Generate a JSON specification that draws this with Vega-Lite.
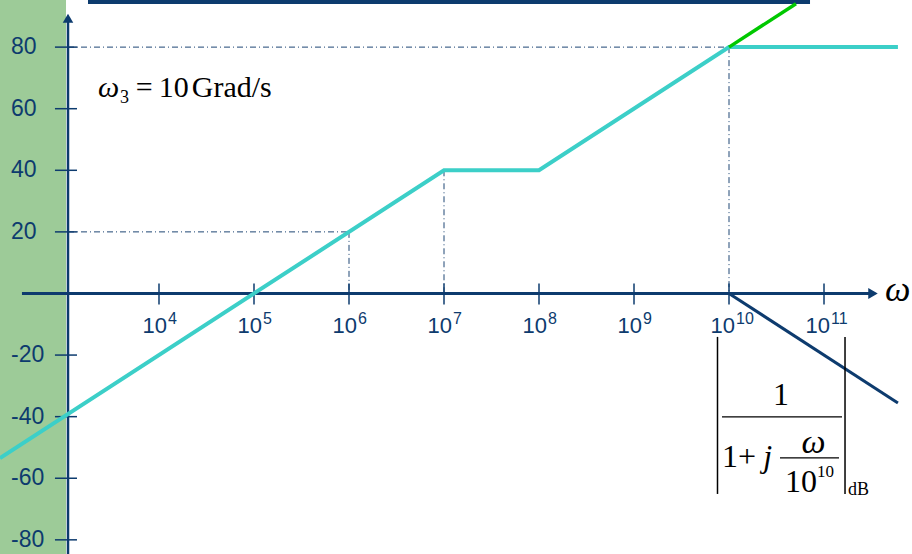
{
  "$schema": "https://vega.github.io/schema/vega-lite/v6.json",
  "width": 912,
  "height": 554,
  "autosize": {"type": "none"},
  "padding": 0,
  "background": "white",
  "config": {"view": {"stroke": null}, "axis": {"disable": true}},
  "datasets": {
    "asymptote": [
      {"w": 212, "db": -53.47},
      {"w": 1e7, "db": 40},
      {"w": 1e8, "db": 40},
      {"w": 1e10, "db": 80},
      {"w": 6e11, "db": 80}
    ],
    "ideal": [
      {"w": 1e10, "db": 80},
      {"w": 5.07e10, "db": 94.1}
    ],
    "pole": [
      {"w": 1e10, "db": 0},
      {"w": 6e11, "db": -35.56}
    ],
    "guides": [
      {"w1": 1102, "w2": 1e10, "db1": 80, "db2": 80},
      {"w1": 1e10, "w2": 1e10, "db1": 80, "db2": 0},
      {"w1": 1102, "w2": 1e6, "db1": 20, "db2": 20},
      {"w1": 1e6, "w2": 1e6, "db1": 20, "db2": 0},
      {"w1": 1e7, "w2": 1e7, "db1": 40, "db2": 0}
    ],
    "xticks": [
      {"w": 1e4, "e": "4"},
      {"w": 1e5, "e": "5"},
      {"w": 1e6, "e": "6"},
      {"w": 1e7, "e": "7"},
      {"w": 1e8, "e": "8"},
      {"w": 1e9, "e": "9"},
      {"w": 1e10, "e": "10"},
      {"w": 1e11, "e": "11"}
    ],
    "yticks": [
      {"db": 80, "lab": "80"}, {"db": 60, "lab": "60"}, {"db": 40, "lab": "40"}, {"db": 20, "lab": "20"},
      {"db": -20, "lab": "-20"}, {"db": -40, "lab": "-40"}, {"db": -60, "lab": "-60"}, {"db": -80, "lab": "-80"}
    ],
    "one": [{}]
  },
  "layer": [
    {
      "data": {"name": "one"},
      "mark": {"type": "rect", "color": "#9DCB98"},
      "encoding": {
        "x": {"datum": 212, "type": "quantitative", "scale": {"type": "log", "domain": [212.0, 8.438e11], "nice": false}, "axis": null},
        "x2": {"datum": 1050},
        "y": {"datum": -84.6, "type": "quantitative", "scale": {"domain": [-84.6, 95.3], "nice": false, "zero": false}, "axis": null},
        "y2": {"datum": 95.3}
      }
    },
    {
      "data": {"name": "one"},
      "mark": {"type": "rect", "color": "#0D3B6E"},
      "encoding": {
        "x": {"datum": 1789, "type": "quantitative"},
        "x2": {"datum": 7.124e10},
        "y": {"datum": 94.0, "type": "quantitative"},
        "y2": {"datum": 95.3}
      }
    },
    {
      "data": {"name": "guides"},
      "mark": {"type": "rule", "color": "#1E4674", "strokeWidth": 1, "strokeDash": [6, 3, 1, 3]},
      "encoding": {
        "x": {"field": "w1", "type": "quantitative"},
        "x2": {"field": "w2"},
        "y": {"field": "db1", "type": "quantitative"},
        "y2": {"field": "db2"}
      }
    },
    {
      "data": {"name": "one"},
      "mark": {"type": "rule", "color": "#0D3B6E", "strokeWidth": 2.5},
      "encoding": {
        "x": {"datum": 1102, "type": "quantitative"},
        "y": {"datum": -84.6, "type": "quantitative"},
        "y2": {"datum": 89.0}
      }
    },
    {
      "data": {"name": "one"},
      "mark": {"type": "point", "shape": "triangle-up", "filled": true, "color": "#0D3B6E", "size": 110, "opacity": 1},
      "encoding": {
        "x": {"datum": 1102, "type": "quantitative"},
        "y": {"datum": 89.4, "type": "quantitative"}
      }
    },
    {
      "data": {"name": "one"},
      "mark": {"type": "rule", "color": "#0D3B6E", "strokeWidth": 3},
      "encoding": {
        "x": {"datum": 361, "type": "quantitative"},
        "x2": {"datum": 3.05e11},
        "y": {"datum": 0, "type": "quantitative"}
      }
    },
    {
      "data": {"name": "one"},
      "mark": {"type": "point", "shape": "triangle-right", "filled": true, "color": "#0D3B6E", "size": 120, "opacity": 1},
      "encoding": {
        "x": {"datum": 3.28e11, "type": "quantitative"},
        "y": {"datum": 0, "type": "quantitative"}
      }
    },
    {
      "data": {"name": "xticks"},
      "mark": {"type": "rule", "color": "#0D3B6E", "strokeWidth": 1.5},
      "encoding": {
        "x": {"field": "w", "type": "quantitative"},
        "y": {"datum": 3.2, "type": "quantitative"},
        "y2": {"datum": -3.6}
      }
    },
    {
      "data": {"name": "yticks"},
      "mark": {"type": "rule", "color": "#0D3B6E", "strokeWidth": 1.5},
      "encoding": {
        "y": {"field": "db", "type": "quantitative"},
        "x": {"datum": 803, "type": "quantitative"},
        "x2": {"datum": 1370}
      }
    },
    {
      "data": {"name": "yticks"},
      "mark": {"type": "text", "color": "#0D3B6E", "font": "Liberation Sans", "fontSize": 23, "align": "left", "baseline": "middle"},
      "encoding": {
        "y": {"field": "db", "type": "quantitative"},
        "x": {"datum": 276.8, "type": "quantitative"},
        "text": {"field": "lab", "type": "nominal"}
      }
    },
    {
      "data": {"name": "xticks"},
      "transform": [{"filter": "datum.w < 5e9"}],
      "mark": {"type": "text", "color": "#0D3B6E", "font": "Liberation Sans", "fontSize": 22, "align": "right", "baseline": "alphabetic", "dx": 8},
      "encoding": {
        "x": {"field": "w", "type": "quantitative"},
        "y": {"datum": -12.8, "type": "quantitative"},
        "text": {"value": "10"}
      }
    },
    {
      "data": {"name": "xticks"},
      "transform": [{"filter": "datum.w > 5e9"}],
      "mark": {"type": "text", "color": "#0D3B6E", "font": "Liberation Sans", "fontSize": 22, "align": "right", "baseline": "alphabetic", "dx": 6},
      "encoding": {
        "x": {"field": "w", "type": "quantitative"},
        "y": {"datum": -12.8, "type": "quantitative"},
        "text": {"value": "10"}
      }
    },
    {
      "data": {"name": "xticks"},
      "transform": [{"filter": "datum.w < 5e9"}],
      "mark": {"type": "text", "color": "#0D3B6E", "font": "Liberation Sans", "fontSize": 16, "align": "left", "baseline": "alphabetic", "dx": 9},
      "encoding": {
        "x": {"field": "w", "type": "quantitative"},
        "y": {"datum": -9.8, "type": "quantitative"},
        "text": {"field": "e", "type": "nominal"}
      }
    },
    {
      "data": {"name": "xticks"},
      "transform": [{"filter": "datum.w > 5e9"}],
      "mark": {"type": "text", "color": "#0D3B6E", "font": "Liberation Sans", "fontSize": 16, "align": "left", "baseline": "alphabetic", "dx": 7},
      "encoding": {
        "x": {"field": "w", "type": "quantitative"},
        "y": {"datum": -9.8, "type": "quantitative"},
        "text": {"field": "e", "type": "nominal"}
      }
    },
    {
      "data": {"name": "pole"},
      "mark": {"type": "line", "color": "#0D3B6E", "strokeWidth": 3},
      "encoding": {
        "x": {"field": "w", "type": "quantitative"},
        "y": {"field": "db", "type": "quantitative"}
      }
    },
    {
      "data": {"name": "asymptote"},
      "mark": {"type": "line", "color": "#3CCFC8", "strokeWidth": 4},
      "encoding": {
        "x": {"field": "w", "type": "quantitative"},
        "y": {"field": "db", "type": "quantitative"}
      }
    },
    {
      "data": {"name": "ideal"},
      "mark": {"type": "line", "color": "#00C800", "strokeWidth": 3.5},
      "encoding": {
        "x": {"field": "w", "type": "quantitative"},
        "y": {"field": "db", "type": "quantitative"}
      }
    },
    {
      "data": {"name": "one"},
      "mark": {"type": "text", "color": "black", "font": "Liberation Serif", "fontSize": 30, "fontStyle": "italic", "align": "left", "baseline": "alphabetic"},
      "encoding": {
        "x": {"datum": 2280, "type": "quantitative"},
        "y": {"datum": 63.8, "type": "quantitative"},
        "text": {"value": "ω"}
      }
    },
    {
      "data": {"name": "one"},
      "mark": {"type": "text", "color": "black", "font": "Liberation Serif", "fontSize": 18, "align": "left", "baseline": "alphabetic"},
      "encoding": {
        "x": {"datum": 3882, "type": "quantitative"},
        "y": {"datum": 61.7, "type": "quantitative"},
        "text": {"value": "3"}
      }
    },
    {
      "data": {"name": "one"},
      "mark": {"type": "text", "color": "black", "font": "Liberation Serif", "fontSize": 30, "align": "left", "baseline": "alphabetic"},
      "encoding": {
        "x": {"datum": 5700, "type": "quantitative"},
        "y": {"datum": 63.8, "type": "quantitative"},
        "text": {"value": "="}
      }
    },
    {
      "data": {"name": "one"},
      "mark": {"type": "text", "color": "black", "font": "Liberation Serif", "fontSize": 30, "align": "left", "baseline": "alphabetic"},
      "encoding": {
        "x": {"datum": 9960, "type": "quantitative"},
        "y": {"datum": 63.8, "type": "quantitative"},
        "text": {"value": "10"}
      }
    },
    {
      "data": {"name": "one"},
      "mark": {"type": "text", "color": "black", "font": "Liberation Serif", "fontSize": 30, "align": "left", "baseline": "alphabetic"},
      "encoding": {
        "x": {"datum": 22130, "type": "quantitative"},
        "y": {"datum": 63.8, "type": "quantitative"},
        "text": {"value": "Grad/s"}
      }
    },
    {
      "data": {"name": "one"},
      "mark": {"type": "text", "color": "black", "font": "Liberation Serif", "fontSize": 36, "fontStyle": "italic", "align": "left", "baseline": "alphabetic"},
      "encoding": {
        "x": {"datum": 4.385e11, "type": "quantitative"},
        "y": {"datum": -2.3, "type": "quantitative"},
        "text": {"value": "ω"}
      }
    },
    {
      "data": {"name": "one"},
      "mark": {"type": "rule", "color": "black", "strokeWidth": 1.5},
      "encoding": {
        "x": {"datum": 7.566e9, "type": "quantitative"},
        "y": {"datum": -14.1, "type": "quantitative"},
        "y2": {"datum": -65.1}
      }
    },
    {
      "data": {"name": "one"},
      "mark": {"type": "rule", "color": "black", "strokeWidth": 1.5},
      "encoding": {
        "x": {"datum": 1.664e11, "type": "quantitative"},
        "y": {"datum": -14.1, "type": "quantitative"},
        "y2": {"datum": -65.1}
      }
    },
    {
      "data": {"name": "one"},
      "mark": {"type": "rule", "color": "black", "strokeWidth": 1.2},
      "encoding": {
        "x": {"datum": 8.44e9, "type": "quantitative"},
        "x2": {"datum": 1.547e11},
        "y": {"datum": -40.1, "type": "quantitative"}
      }
    },
    {
      "data": {"name": "one"},
      "mark": {"type": "rule", "color": "black", "strokeWidth": 1.2},
      "encoding": {
        "x": {"datum": 3.441e10, "type": "quantitative"},
        "x2": {"datum": 1.438e11},
        "y": {"datum": -53.4, "type": "quantitative"}
      }
    },
    {
      "data": {"name": "one"},
      "mark": {"type": "text", "color": "black", "font": "Liberation Serif", "fontSize": 32, "align": "center", "baseline": "alphabetic"},
      "encoding": {
        "x": {"datum": 3.527e10, "type": "quantitative"},
        "y": {"datum": -36.2, "type": "quantitative"},
        "text": {"value": "1"}
      }
    },
    {
      "data": {"name": "one"},
      "mark": {"type": "text", "color": "black", "font": "Liberation Serif", "fontSize": 32, "align": "left", "baseline": "alphabetic"},
      "encoding": {
        "x": {"datum": 8.44e9, "type": "quantitative"},
        "y": {"datum": -56.3, "type": "quantitative"},
        "text": {"value": "1+"}
      }
    },
    {
      "data": {"name": "one"},
      "mark": {"type": "text", "color": "black", "font": "Liberation Serif", "fontSize": 32, "fontStyle": "italic", "align": "left", "baseline": "alphabetic"},
      "encoding": {
        "x": {"datum": 2.3e10, "type": "quantitative"},
        "y": {"datum": -56.3, "type": "quantitative"},
        "text": {"value": "j"}
      }
    },
    {
      "data": {"name": "one"},
      "mark": {"type": "text", "color": "black", "font": "Liberation Serif", "fontSize": 34, "fontStyle": "italic", "align": "center", "baseline": "alphabetic"},
      "encoding": {
        "x": {"datum": 7.754e10, "type": "quantitative"},
        "y": {"datum": -51.8, "type": "quantitative"},
        "text": {"value": "ω"}
      }
    },
    {
      "data": {"name": "one"},
      "mark": {"type": "text", "color": "black", "font": "Liberation Serif", "fontSize": 32, "align": "left", "baseline": "alphabetic"},
      "encoding": {
        "x": {"datum": 3.886e10, "type": "quantitative"},
        "y": {"datum": -64.4, "type": "quantitative"},
        "text": {"value": "10"}
      }
    },
    {
      "data": {"name": "one"},
      "mark": {"type": "text", "color": "black", "font": "Liberation Serif", "fontSize": 17, "align": "left", "baseline": "alphabetic"},
      "encoding": {
        "x": {"datum": 8.44e10, "type": "quantitative"},
        "y": {"datum": -59.6, "type": "quantitative"},
        "text": {"value": "10"}
      }
    },
    {
      "data": {"name": "one"},
      "mark": {"type": "text", "color": "black", "font": "Liberation Serif", "fontSize": 18, "align": "left", "baseline": "alphabetic"},
      "encoding": {
        "x": {"datum": 1.789e11, "type": "quantitative"},
        "y": {"datum": -65.4, "type": "quantitative"},
        "text": {"value": "dB"}
      }
    }
  ]
}
